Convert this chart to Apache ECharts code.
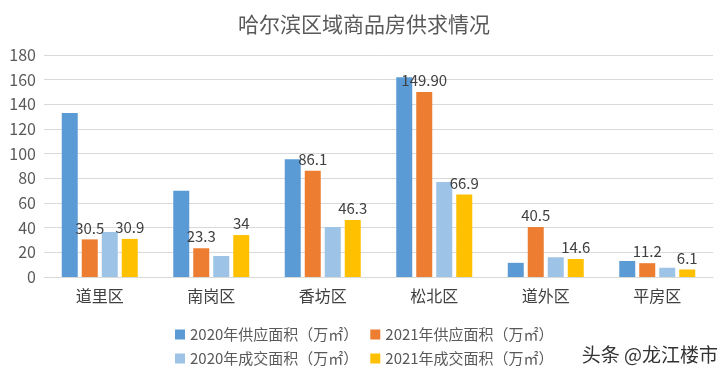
<!DOCTYPE html>
<html>
<head>
<meta charset="utf-8">
<script src="https://cdn.jsdelivr.net/npm/echarts@6/dist/echarts.min.js"></script>
<style>
  html, body { margin: 0; padding: 0; background: #fff; }
  #chart { width: 728px; height: 378px; }
</style>
</head>
<body>
<div id="chart"></div>
<script>
const districts = ['道里区', '南岗区', '香坊区', '松北区', '道外区', '平房区'];
const seriesNames = ['2020年供应面积（万㎡）', '2021年供应面积（万㎡）', '2020年成交面积（万㎡）', '2021年成交面积（万㎡）'];
const supply2020 = [133, 70, 95.5, 162, 11.5, 13];
const supply2021 = [30.5, 23.3, 86.1, 149.9, 40.5, 11.2];
const deal2020 = [36.5, 17, 40.5, 77, 16, 7.5];
const deal2021 = [30.9, 34, 46.3, 66.9, 14.6, 6.1];
const supply2021Labels = ['30.5', '23.3', '86.1', '149.90', '40.5', '11.2'];
const deal2021Labels = ['30.9', '34', '46.3', '66.9', '14.6', '6.1'];
const colors = ['#5B9BD5', '#ED7D31', '#9DC3E6', '#FFC000'];

const font = '"Microsoft YaHei", "Noto Sans CJK SC", sans-serif';
const chart = echarts.init(document.getElementById('chart'), null, { renderer: 'canvas' });

function barSeries(i, data, labels) {
    const s = {
        name: seriesNames[i],
        type: 'bar',
        barWidth: 16,
        barGap: '25%',
        itemStyle: { color: colors[i] },
        data: data,
    };
    if (labels) {
        s.label = {
            show: true,
            position: 'top',
            distance: 4,
            color: '#404040',
            fontSize: 15,
            fontFamily: font,
            formatter: (p) => labels[p.dataIndex],
        };
    }
    return s;
}

const legendText = { color: '#595959', fontSize: 15, fontFamily: font };

chart.setOption({
    animation: false,
    backgroundColor: '#fff',
    textStyle: { fontFamily: font },
    title: {
        text: '哈尔滨区域商品房供求情况',
        left: 'center',
        top: 9,
        textStyle: { color: '#595959', fontSize: 21, fontWeight: 'normal', fontFamily: font },
    },
    grid: { left: 44, right: 15, top: 55, bottom: 101 },
    legend: [
        {
            data: [seriesNames[0], seriesNames[1]],
            left: 170, top: 322,
            itemWidth: 10, itemHeight: 10, itemGap: 12,
            icon: 'rect',
            textStyle: legendText,
        },
        {
            data: [seriesNames[2], seriesNames[3]],
            left: 170, top: 346,
            itemWidth: 10, itemHeight: 10, itemGap: 12,
            icon: 'rect',
            textStyle: legendText,
        },
    ],
    xAxis: {
        type: 'category',
        data: districts,
        axisLine: { lineStyle: { color: '#d9d9d9' } },
        axisTick: { show: false },
        axisLabel: { color: '#404040', fontSize: 16, margin: 11, fontFamily: font },
    },
    yAxis: {
        type: 'value',
        min: 0,
        max: 180,
        interval: 20,
        axisLine: { show: false },
        axisTick: { show: false },
        splitLine: { lineStyle: { color: '#d9d9d9' } },
        axisLabel: { color: '#595959', fontSize: 16, margin: 8, fontFamily: font },
    },
    graphic: [
        {
            type: 'text',
            right: 10,
            top: 345,
            style: { text: '头条 @龙江楼市', fill: '#333', fontSize: 19, fontFamily: font },
        },
    ],
    series: [
        barSeries(0, supply2020),
        barSeries(1, supply2021, supply2021Labels),
        barSeries(2, deal2020),
        barSeries(3, deal2021, deal2021Labels),
    ],
});
</script>
</body>
</html>
